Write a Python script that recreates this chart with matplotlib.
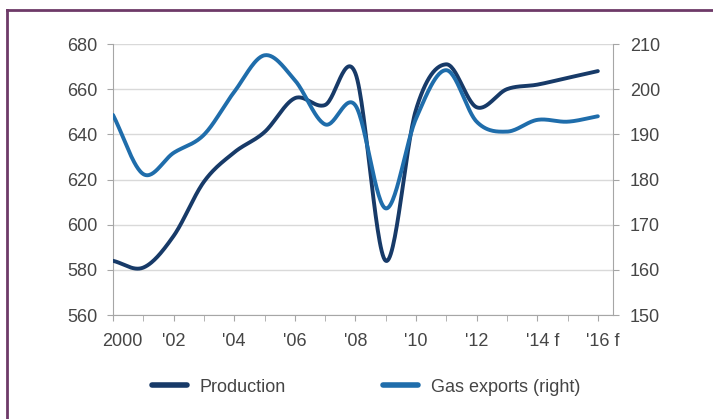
import numpy as np
import matplotlib
matplotlib.use('Agg')
import matplotlib.pyplot as plt
from matplotlib.lines import Line2D
from matplotlib.transforms import ScaledTranslation

plt.rcParams['font.family'] = ['Liberation Sans', 'DejaVu Sans']

years = np.arange(2000, 2017)
production = [584, 581, 595, 619, 632, 641, 656, 653, 667, 584, 651, 671, 652, 660, 662, 665, 668]
gas_exports = [194.3, 181.2, 185.9, 189.9, 199.4, 207.5, 202, 192.2, 196.4, 173.6, 193.5, 204.2, 192.8, 190.6, 193.2, 192.8, 194]
tick_labels = ['2000', "'02", "'04", "'06", "'08", "'10", "'12", "'14 f", "'16 f"]

PROD_COL = '#173a68'
GAS_COL = '#1f6dab'
TXT = '#454545'
SPINE = '#a6a6a6'
FS = 13


def smooth(x, y, n=30):
    # catmull-rom through the points, like excel's smoothed line
    x = np.asarray(x, float)
    y = np.asarray(y, float)
    px = np.concatenate([[2*x[0]-x[1]], x, [2*x[-1]-x[-2]]])
    py = np.concatenate([[2*y[0]-y[1]], y, [2*y[-1]-y[-2]]])
    xs, ys = [], []
    t = np.linspace(0, 1, n, endpoint=False)
    for i in range(1, len(px) - 2):
        for arr, out in ((px, xs), (py, ys)):
            p0, p1, p2, p3 = arr[i-1], arr[i], arr[i+1], arr[i+2]
            out.append(0.5 * ((2*p1) + (-p0 + p2)*t + (2*p0 - 5*p1 + 4*p2 - p3)*t**2
                              + (-p0 + 3*p1 - 3*p2 + p3)*t**3))
    xs.append([x[-1]])
    ys.append([y[-1]])
    return np.concatenate(xs), np.concatenate(ys)


fig = plt.figure(figsize=(7.13, 4.19), dpi=100)
ax = fig.add_axes([113/713, 1 - 315/419, 500/713, 271/419])
ax2 = ax.twinx()

sx, sy = smooth(years, production)
ax.plot(sx, sy, color=PROD_COL, lw=2.8, solid_capstyle='round', zorder=3)
gx, gy = smooth(years, gas_exports)
ax2.plot(gx, gy, color=GAS_COL, lw=2.8, solid_capstyle='round', zorder=3)

ax.set_xlim(2000, 2016.5)
ax.set_ylim(560, 680)
ax2.set_ylim(150, 210)
ax.set_yticks(np.arange(560, 681, 20))
ax2.set_yticks(np.arange(150, 211, 10))
ax.set_xticks(years[::2])
ax.set_xticklabels(tick_labels)
ax.set_xticks(years, minor=True)

ax.grid(axis='y', color='#d9d9d9', lw=1)
ax.set_axisbelow(True)
for a in (ax, ax2):
    for s in a.spines.values():
        s.set_color(SPINE)
    a.spines['top'].set_visible(False)
ax2.spines['left'].set_visible(False)
ax2.spines['bottom'].set_visible(False)
ax.spines['right'].set_visible(False)

ax.tick_params(axis='y', length=4, color=SPINE, labelcolor=TXT, labelsize=FS, pad=7)
ax2.tick_params(axis='y', length=4, color=SPINE, labelcolor=TXT, labelsize=FS, pad=8)
ax.tick_params(axis='x', which='both', length=4, color=SPINE, labelcolor=TXT, labelsize=FS, pad=9)

# excel nudges the first label and the forecast labels a bit to the right
for lab, dx in zip(ax.get_xticklabels(), [9, 0, 0, 0, 0, 0, 0, 5, 5]):
    lab.set_transform(lab.get_transform() + ScaledTranslation(dx/100, 0, fig.dpi_scale_trans))

handles = [Line2D([], [], color=PROD_COL, lw=4, solid_capstyle='round'),
           Line2D([], [], color=GAS_COL, lw=4, solid_capstyle='round')]
fig.legend(handles, ['Production', 'Gas exports (right)'], loc='center left',
           bbox_to_anchor=(136/713, 1 - 387/419), ncol=2, frameon=False,
           fontsize=FS, labelcolor=TXT, handlelength=1.9, handletextpad=0.72,
           columnspacing=5.4)

# purple frame on top and left
fig.add_artist(Line2D([7/713, 1], [1 - 10/419, 1 - 10/419], color='#6e3a68', lw=2,
                      transform=fig.transFigure))
fig.add_artist(Line2D([7/713, 7/713], [0, 1 - 10/419], color='#6e3a68', lw=2,
                      transform=fig.transFigure))

fig.savefig('out.png', dpi=100)
